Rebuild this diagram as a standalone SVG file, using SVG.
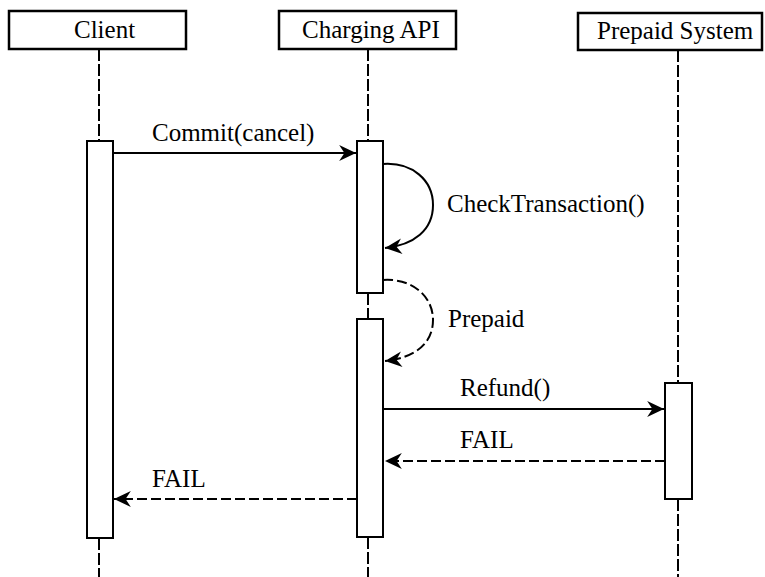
<svg xmlns="http://www.w3.org/2000/svg" width="765" height="577" viewBox="0 0 765 577">
<style>
.hdr{fill:#fff;stroke:#000;stroke-width:2.5}
.act{fill:#fff;stroke:#000;stroke-width:2}
.life{stroke:#000;stroke-width:2;stroke-dasharray:12,3;fill:none}
.msg{stroke:#000;stroke-width:2;fill:none}
.ret{stroke:#000;stroke-width:2;fill:none;stroke-dasharray:10,4}
text{font-family:"Liberation Serif","Times New Roman",serif;font-size:25px;fill:#000}
</style>
<defs>
<marker id="ah" markerUnits="userSpaceOnUse" markerWidth="20" markerHeight="20" viewBox="-17 -9 19 18" refX="0" refY="0" orient="auto">
<path d="M0,0 L-16,-7.5 L-11,0 L-16,7.5 Z" fill="#000"/>
</marker>
</defs>
<g id="lifelines">
<line class="life" x1="99" y1="49" x2="99" y2="141"/>
<line class="life" x1="99" y1="538" x2="99" y2="577"/>
<line class="life" x1="368" y1="49" x2="368" y2="141"/>
<line class="life" x1="368" y1="293" x2="368" y2="319"/>
<line class="life" x1="368" y1="537" x2="368" y2="577"/>
<line class="life" x1="678" y1="50" x2="678" y2="383"/>
<line class="life" x1="678" y1="499" x2="678" y2="577"/>
</g>
<g id="client">
<rect class="hdr" x="9" y="11" width="177" height="38"/>
<text x="74" y="38">Client</text>
<rect class="act" x="87" y="141" width="26" height="397"/>
</g>
<g id="charging-api">
<rect class="hdr" x="279" y="11" width="177" height="38"/>
<text x="302" y="38">Charging API</text>
<rect class="act" x="357" y="141" width="26" height="152"/>
<rect class="act" x="357" y="319" width="26" height="218"/>
</g>
<g id="prepaid-system">
<rect class="hdr" x="578" y="13" width="184" height="37"/>
<text x="597" y="39">Prepaid System</text>
<rect class="act" x="665" y="383" width="27" height="116"/>
</g>
<g id="connectors">
<line class="msg" x1="113" y1="153" x2="356" y2="153" marker-end="url(#ah)"/>
<path class="msg" d="M383,164 C412,162 433,180 433,205 C433,230 414,245 385,248" marker-end="url(#ah)"/>
<path class="ret" d="M383,280 C412,278 433,296 433,320 C433,344 414,358 385,361" marker-end="url(#ah)"/>
<line class="msg" x1="383" y1="409" x2="664" y2="409" marker-end="url(#ah)"/>
<line class="ret" x1="665" y1="461" x2="385" y2="461" marker-end="url(#ah)"/>
<line class="ret" x1="357" y1="499" x2="114" y2="499" marker-end="url(#ah)"/>
</g>
<g id="labels">
<text x="152" y="141">Commit(cancel)</text>
<text x="447" y="212">CheckTransaction()</text>
<text x="448" y="327">Prepaid</text>
<text x="460" y="396">Refund()</text>
<text x="460" y="448">FAIL</text>
<text x="152" y="487">FAIL</text>
</g>
</svg>
